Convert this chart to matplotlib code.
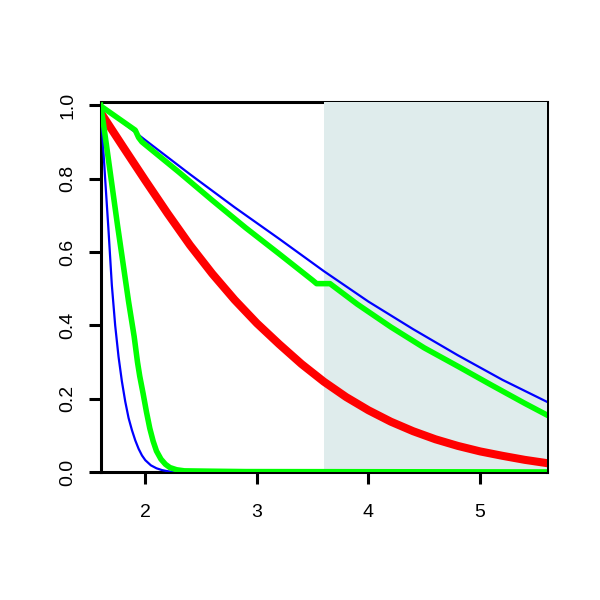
import matplotlib
matplotlib.use("Agg")
import matplotlib.pyplot as plt
from matplotlib.patches import Rectangle

# shaded interval on x
shade_x = [3.6, 5.6]

# thick red curve
red_x = [1.6, 1.8, 2.0, 2.2, 2.4, 2.6, 2.8, 3.0, 3.2, 3.4, 3.6, 3.8, 4.0, 4.2, 4.4, 4.6, 4.8, 5.0, 5.2, 5.4, 5.6]
red_y = [0.98, 0.887, 0.795, 0.705, 0.619, 0.541, 0.470, 0.406, 0.349, 0.295, 0.247, 0.205, 0.169, 0.138, 0.112, 0.090, 0.072, 0.057, 0.045, 0.034, 0.025]

# thin blue, slow decay
blue_up_x = [1.6, 2.0, 2.4, 2.8, 3.2, 3.6, 4.0, 4.4, 4.8, 5.2, 5.6]
blue_up_y = [1.0, 0.905, 0.812, 0.722, 0.636, 0.548, 0.465, 0.39, 0.319, 0.252, 0.192]

# thin blue, fast decay
blue_lo_x = [1.6, 1.615, 1.64, 1.67, 1.70, 1.73, 1.76, 1.79, 1.82, 1.85, 1.88, 1.91, 1.94, 1.97,
             2.0, 2.05, 2.1, 2.15, 2.2, 2.27, 5.6]
blue_lo_y = [1.0, 0.92, 0.80, 0.66, 0.51, 0.40, 0.315, 0.248, 0.193, 0.148, 0.115, 0.087, 0.064, 0.046,
             0.033, 0.019, 0.011, 0.006, 0.003, 0.0, 0.0]

# thick green, slow decay (with step)
green_up_x = [1.6, 1.91, 1.94, 1.97, 2.3, 2.6, 2.9, 3.2, 3.5, 3.535, 3.655, 3.9, 4.2, 4.5, 4.8, 5.1, 5.4, 5.6]
green_up_y = [0.998, 0.932, 0.912, 0.900, 0.818, 0.741, 0.666, 0.595, 0.523, 0.514, 0.514, 0.458, 0.396, 0.339, 0.289, 0.238, 0.188, 0.156]

# thick green, fast decay
green_lo_x = [1.6, 1.62, 1.65, 1.70, 1.75, 1.80, 1.85, 1.90, 1.93, 1.95, 1.98, 2.01, 2.04, 2.07,
              2.10, 2.14, 2.18, 2.22, 2.28, 2.35, 2.6, 2.9, 5.6]
green_lo_y = [1.0, 0.96, 0.895, 0.785, 0.675, 0.57, 0.465, 0.37, 0.3, 0.262, 0.215, 0.165, 0.12, 0.085,
              0.058, 0.036, 0.022, 0.013, 0.007, 0.004, 0.003, 0.002, 0.001]

plt.rcParams['font.family'] = ['Liberation Sans', 'DejaVu Sans']

fig = plt.figure(figsize=(6, 6), dpi=100)
ax = fig.add_axes([0.1678, 0.2128, 0.9117 - 0.1678, 0.8295 - 0.2128])
ax.set_xlim(1.6, 5.6)
ax.set_ylim(0, 1.008)

ax.add_patch(Rectangle((shade_x[0], 0), shade_x[1] - shade_x[0], 1.008,
                       facecolor='#dfecec', edgecolor='none', zorder=2.6))

ax.plot(blue_up_x, blue_up_y, color='#0000ff', lw=1.6, zorder=3)
ax.plot(blue_lo_x, blue_lo_y, color='#0000ff', lw=1.6, zorder=3)
ax.plot(red_x, red_y, color='#ff0000', lw=5.8, zorder=3)
ax.plot(green_up_x, green_up_y, color='#00ff00', lw=4.0, zorder=3)
ax.plot(green_lo_x, green_lo_y, color='#00ff00', lw=4.0, zorder=3)

for s in ax.spines.values():
    s.set_linewidth(2.2)
    s.set_color('black')

ax.set_xticks([2, 3, 4, 5])
ax.set_yticks([0.0, 0.2, 0.4, 0.6, 0.8, 1.0])
ax.set_yticklabels(['0.0', '0.2', '0.4', '0.6', '0.8', '1.0'], rotation=90, va='center')
ax.tick_params(axis='both', length=8.6, width=2.2, labelsize=14)
ax.tick_params(axis='x', pad=14)
ax.tick_params(axis='y', pad=9)

fig.savefig('out.png', dpi=100)
